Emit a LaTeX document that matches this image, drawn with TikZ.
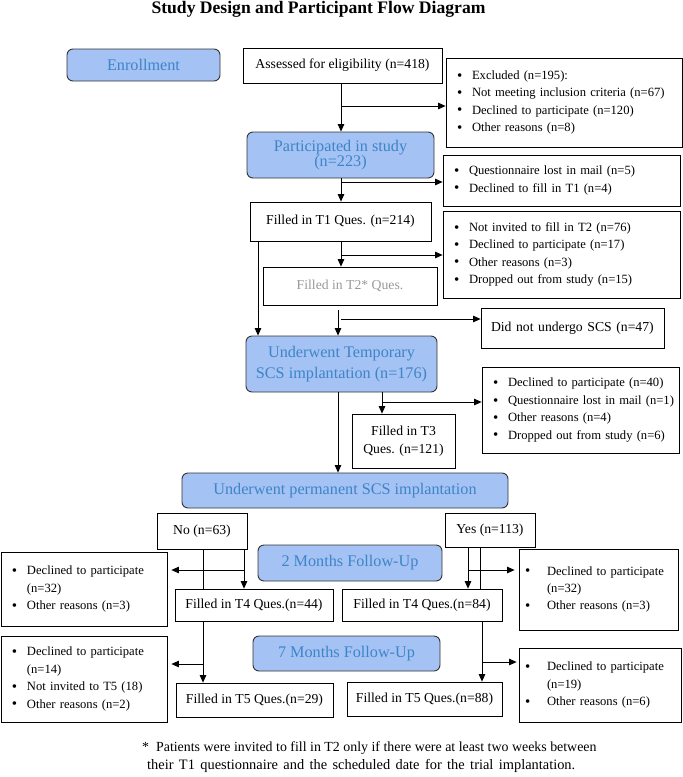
\documentclass[tikz,border=0pt]{standalone}
\usepackage{fontspec}
\setmainfont{Liberation Serif}
\usetikzlibrary{arrows.meta,calc}
\definecolor{bfill}{HTML}{A4C2F4}
\definecolor{btext}{HTML}{3D85C6}
\definecolor{bdraw}{HTML}{333333}
\definecolor{tgray}{HTML}{999999}
\newcommand\bdot{\raisebox{-0.7pt}{\fontsize{15}{15}\selectfont\textbullet}}
\newcommand\bitem[1]{\mbox{\makebox[15pt][l]{\bdot}#1}}
\newcommand\bcont[1]{\mbox{\hspace*{15pt}#1}}
\newcommand\ritem[1]{\mbox{\makebox[22pt][l]{\bdot}#1}}
\newcommand\rcont[1]{\mbox{\hspace*{22pt}#1}}
\begin{document}
\begin{tikzpicture}[x=1pt,y=-1pt,
  box/.style={draw=black,line width=0.8pt,inner sep=0pt,align=center,font=\fontsize{13.7}{17}\selectfont},
  phase/.style={draw=bdraw,fill=bfill,rounded corners=6pt,line width=0.9pt,inner sep=0pt,align=center,text=btext,font=\fontsize{16.2}{19}\selectfont},
  blist/.style={draw=black,line width=0.8pt,inner ysep=0pt,inner xsep=11pt,align=left,font=\fontsize{12.6}{17.4}\selectfont},
  arr/.style={-{Triangle[length=7.5pt,width=6.5pt]},line width=0.8pt},
  ln/.style={line width=0.8pt}]
\useasboundingbox (0,0) rectangle (683,777);

\node[font=\bfseries\fontsize{17.6}{20}\selectfont,anchor=base] (title) at (318.5,13) {Study Design and Participant Flow Diagram};

\node[phase,minimum width=153pt,minimum height=32pt] (enroll) at (143.5,65) {Enrollment};
\node[box,minimum width=199pt,minimum height=35pt] (assess) at (342.5,65.5) {Assessed for eligibility (n=418)};
\node[blist,text width=214pt,minimum height=89pt] (excl) at (564,102.5) {\bitem{Excluded (n=195):}\\\bitem{Not meeting inclusion criteria (n=67)}\\\bitem{Declined to participate (n=120)}\\\bitem{Other reasons (n=8)}};
\node[phase,minimum width=187pt,minimum height=46pt,font=\fontsize{16.2}{12}\selectfont] (part) at (340.5,155) {Participated in study\\(n=223)};
\node[blist,text width=215pt,minimum height=51pt] (quest) at (561.5,180.5) {\bitem{Questionnaire lost in mail (n=5)}\\\bitem{Declined to fill in T1 (n=4)}};
\node[box,minimum width=181pt,minimum height=39pt] (t1) at (340.5,221.5) {Filled in T1 Ques. (n=214)};
\node[blist,text width=215pt,minimum height=87pt] (notinv) at (561.5,254.5) {\bitem{Not invited to fill in T2 (n=76)}\\\bitem{Declined to participate (n=17)}\\\bitem{Other reasons (n=3)}\\\bitem{Dropped out from study (n=15)}};
\node[box,minimum width=174pt,minimum height=38pt,text=tgray] (t2) at (350,286) {Filled in T2* Ques.};
\node[box,inner xsep=10pt,text width=163pt,align=left,minimum height=40pt] (dns) at (572.5,328) {Did not undergo SCS (n=47)};
\node[phase,minimum width=191pt,minimum height=56pt,font=\fontsize{16.2}{21}\selectfont] (utemp) at (341.5,364) {Underwent Temporary\\SCS implantation (n=176)};
\node[blist,text width=175pt,minimum height=86pt] (decl2) at (580.5,410) {\bitem{Declined to participate (n=40)}\\\bitem{Questionnaire lost in mail (n=1)}\\\bitem{Other reasons (n=4)}\\\bitem{Dropped out from study (n=6)}};
\node[box,minimum width=103pt,minimum height=54pt,font=\fontsize{13.7}{18}\selectfont] (t3) at (403.5,441) {Filled in T3\\Ques. (n=121)};
\node[phase,minimum width=326pt,minimum height=35pt] (perm) at (345,490.5) {Underwent permanent SCS implantation};
\node[box,minimum width=90pt,minimum height=36pt] (no) at (202,531) {No (n=63)};
\node[box,minimum width=90pt,minimum height=34pt] (yes) at (490,530) {Yes (n=113)};
\node[blist,text width=144pt,minimum height=74pt] (lb1) at (84,589) {\bitem{Declined to participate}\\\bcont{(n=32)}\\\bitem{Other reasons (n=3)}};
\node[phase,minimum width=184pt,minimum height=36pt] (twom) at (350,563) {2 Months Follow-Up};
\node[blist,inner xsep=6pt,text width=147pt,minimum height=81pt] (rb1) at (598.5,589.5) {\ritem{Declined to participate}\\\rcont{(n=32)}\\\ritem{Other reasons (n=3)}};
\node[box,minimum width=158pt,minimum height=32pt] (t4l) at (254,605) {Filled in T4 Ques.(n=44)};
\node[box,minimum width=160pt,minimum height=32pt] (t4r) at (422,605) {Filled in T4 Ques.(n=84)};
\node[blist,text width=144pt,minimum height=86pt] (lb2) at (84,679) {\bitem{Declined to participate}\\\bcont{(n=14)}\\\bitem{Not invited to T5 (18)}\\\bitem{Other reasons (n=2)}};
\node[phase,minimum width=187pt,minimum height=35pt] (sevm) at (346.5,653.5) {7 Months Follow-Up};
\node[blist,inner xsep=6pt,text width=150pt,minimum height=74pt] (rb2) at (600,685) {\ritem{Declined to participate}\\\rcont{(n=19)}\\\ritem{Other reasons (n=6)}};
\node[box,minimum width=157pt,minimum height=34pt] (t5l) at (254.5,700) {Filled in T5 Ques.(n=29)};
\node[box,minimum width=155pt,minimum height=34pt] (t5r) at (424.5,699) {Filled in T5 Ques.(n=88)};

\node[anchor=base west,inner sep=0pt,font=\fontsize{13.9}{17}\selectfont] (fn1) at (142,751) {*\ \ Patients were invited to fill in T2 only if there were at least two weeks between};
\node[anchor=base west,inner sep=0pt,font=\fontsize{14.4}{17}\selectfont] (fn2) at (147,769) {\makebox[428pt][s]{their T1 questionnaire and the scheduled date for the trial implantation.}};

\coordinate (xm) at (341,0);
\coordinate (xl) at (258,0);
\coordinate (xt2) at (338,0);
\coordinate (xt3) at (382,0);
\coordinate (xna) at (203,0);
\coordinate (xnb) at (244,0);
\coordinate (xya) at (468,0);
\coordinate (xyb) at (480,0);
\coordinate (xr) at (482,0);
\coordinate (j1) at (341,106);
\coordinate (j2) at (341,182);
\coordinate (j3) at (341,255);
\coordinate (t2s) at (338,310);
\coordinate (j4) at (341,319);
\coordinate (j5) at (382,402);
\coordinate (j6) at (244,570);
\coordinate (j7) at (468,570);
\coordinate (j8) at (203,664);
\coordinate (j9) at (482,662);

\draw[arr] (assess.south -| xm) -- (part.north -| xm);
\draw[arr] (j1) -- (j1 -| excl.west);
\draw[arr] (part.south -| xm) -- (t1.north -| xm);
\draw[arr] (j2) -- (j2 -| quest.west);
\draw[arr] (t1.south -| xm) -- (t2.north -| xm);
\draw[arr] (j3) -- (j3 -| notinv.west);
\draw[arr] (t1.south -| xl) -- (utemp.north -| xl);
\draw[arr] (t2s) -- (utemp.north -| xt2);
\draw[arr] (j4) -- (j4 -| dns.west);
\draw[arr] (utemp.south -| xt2) -- (perm.north -| xt2);
\draw[arr] (utemp.south -| xt3) -- (t3.north -| xt3);
\draw[arr] (j5) -- (j5 -| decl2.west);
\draw[ln] (no.south -| xna) -- (t4l.north -| xna);
\draw[arr] (no.south -| xnb) -- (t4l.north -| xnb);
\draw[arr] (j6) -- ($(j6 -| lb1.east)+(4,0)$);
\draw[arr] (yes.south -| xya) -- (t4r.north -| xya);
\draw[ln] (yes.south -| xyb) -- (t4r.north -| xyb);
\draw[arr] (j7) -- ($(j7 -| rb1.west)+(-4,0)$);
\draw[arr] (t4l.south -| xna) -- (t5l.north -| xna);
\draw[arr] (j8) -- ($(j8 -| lb2.east)+(4,0)$);
\draw[arr] (t4r.south -| xr) -- (t5r.north -| xr);
\draw[arr] (j9) -- ($(j9 -| rb2.west)+(-2,0)$);
\end{tikzpicture}
\end{document}
